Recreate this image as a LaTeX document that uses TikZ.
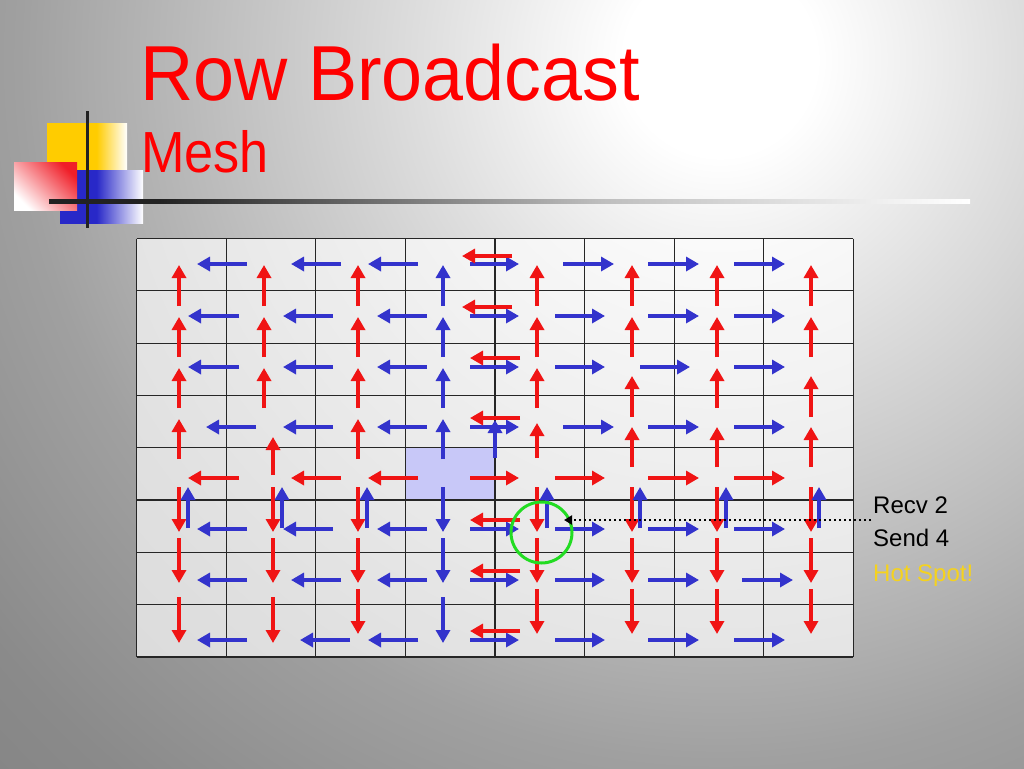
\documentclass[tikz,border=0pt]{standalone}
\usepackage{fontspec}
\usepackage{graphicx}
\setmainfont{Liberation Sans}
\usetikzlibrary{arrows.meta}
\definecolor{arrred}{RGB}{240,20,20}
\definecolor{arrblue}{RGB}{51,51,204}
\definecolor{titlered}{RGB}{255,0,0}
\definecolor{hotyellow}{RGB}{245,210,30}
\definecolor{spotgreen}{RGB}{34,220,34}
\definecolor{srccell}{RGB}{200,200,248}
\definecolor{logoyellow}{RGB}{255,204,0}
\definecolor{logoblue}{RGB}{40,40,200}
\definecolor{logored}{RGB}{240,30,40}
\definecolor{bgA}{RGB}{222,222,222}
\definecolor{bgB}{RGB}{180,180,180}
\definecolor{bgC}{RGB}{160,160,160}
\definecolor{bgD}{RGB}{138,138,138}
\definecolor{bgE}{RGB}{125,125,125}
\definecolor{linedark}{RGB}{34,34,34}
\definecolor{linemid}{RGB}{190,190,190}
% the path's bounding box covers 25bp..75bp of each shading
\pgfdeclareradialshading{bgshade}{\pgfpoint{0bp}{0bp}}{color(0bp)=(white); color(2bp)=(white); color(6.25bp)=(bgA); color(11.9bp)=(bgB); color(14.6bp)=(bgC); color(19.4bp)=(bgD); color(25bp)=(bgE); color(50bp)=(bgE)}
\pgfdeclarehorizontalshading{yellowfade}{100bp}{color(0bp)=(logoyellow); color(56bp)=(logoyellow); color(75bp)=(white); color(100bp)=(white)}
\pgfdeclarehorizontalshading{bluefade}{100bp}{color(0bp)=(logoblue); color(47bp)=(logoblue); color(75bp)=(white); color(100bp)=(white)}
\pgfdeclarehorizontalshading{linefade}{100bp}{color(0bp)=(linedark); color(31bp)=(linedark); color(55bp)=(linemid); color(75bp)=(white); color(100bp)=(white)}
\tikzset{
  redarr/.style={draw=arrred, line width=4.5pt, -{Triangle[length=13pt,width=14pt]}},
  bluearr/.style={draw=arrblue, line width=4.5pt, -{Triangle[length=13pt,width=14pt]}},
  gridline/.style={draw=black!85, line width=1.2pt},
  sidetext/.style={anchor=base west, inner sep=0pt, font=\fontsize{24}{28}\selectfont},
  hotlink/.style={draw=black, line width=2.5pt, dash pattern=on 2.5pt off 2.5pt, -{Triangle[length=8pt,width=9pt]}},
}
\begin{document}
\begin{tikzpicture}[x=1pt,y=-1pt]
\useasboundingbox (0,0) rectangle (1024,768);
% background
\begin{scope}
\clip (0,0) rectangle (1024,768);
\shade[shading=bgshade] (720,60) circle (1200pt);
\end{scope}
% logo
\shade[shading=yellowfade] (47,123) rectangle (127,185);
\shade[shading=bluefade] (60,170) rectangle (143,223);
\shade[top color=logored, bottom color=white, shading angle=-45] (14,162) rectangle (77,210);
\shade[shading=linefade] (49,199) rectangle (970,203);
\draw[draw=linedark, line width=3pt] (87,111) -- (87,228);
% title
\node[anchor=base west, inner sep=0pt, text=titlered, font=\fontsize{78}{80}\selectfont] (title) at (140,100) {\scalebox{0.945}[1]{Row Broadcast}};
\node[anchor=base west, inner sep=0pt, text=titlered, font=\fontsize{58}{60}\selectfont] (subtitle) at (141,172) {\scalebox{0.9}[1]{Mesh}};
% grid
\fill[white, opacity=0.68] (136.5,238.5) rectangle (853.3,656.9);
\fill[srccell] (405.3,447.7) rectangle (495,500);
\foreach \i in {0,...,8} \draw[gridline] ({136.5+89.6*\i},238.5) -- ({136.5+89.6*\i},656.9);
\foreach \j in {0,...,8} \draw[gridline] (136.5,{238.5+52.3*\j}) -- (853.3,{238.5+52.3*\j});
% blue horizontal arrows (y / tail x / tip x)
\foreach \y/\a/\b in {264/247/197, 264/341/291, 264/418/368,
  316/239/188, 316/333/283, 316/427/377,
  367/239/188, 367/333/283, 367/427/377,
  427/256/206, 427/333/283, 427/427/377,
  529/247/197, 529/333/283, 529/427/377,
  580/247/197, 580/341/291, 580/427/377,
  640/247/197, 640/350/300, 640/418/368,
  264/470/519, 316/470/519, 367/470/519, 427/470/519, 529/470/519, 580/470/519, 640/470/519,
  264/563/614, 264/648/699, 264/734/785,
  316/555/605, 316/648/699, 316/734/785,
  367/555/605, 367/640/690, 367/734/785,
  427/563/614, 427/648/699, 427/734/785,
  529/555/605, 529/648/699, 529/734/785,
  580/555/605, 580/648/699, 580/742/793,
  640/555/605, 640/648/699, 640/734/785}
  \draw[bluearr] (\a,\y) -- (\b,\y);
% red horizontal arrows
\foreach \y/\a/\b in {256/512/462, 307/512/462, 358/520/470, 418/520/470,
  520/520/470, 571/520/470, 631/520/470,
  478/239/188, 478/341/291, 478/418/368,
  478/470/519, 478/555/605, 478/648/699, 478/734/785}
  \draw[redarr] (\a,\y) -- (\b,\y);
% red vertical arrows (x / tail y / tip y)
\foreach \x/\a/\b in {179/306/265, 264/306/265, 358/306/265, 537/306/265, 632/306/265, 717/306/265, 811/306/265,
  179/357/317, 264/357/317, 358/357/317, 537/357/317, 632/357/317, 717/357/317, 811/357/317,
  179/408/368, 264/408/368, 358/408/368, 537/408/368, 717/408/368, 632/417/376, 811/417/376,
  179/459/419, 358/459/419, 273/475/437, 537/458/423, 632/467/427, 717/467/427, 811/467/427,
  179/487/532, 179/538/583, 179/597/643,
  273/487/532, 273/538/583, 273/597/643,
  358/487/532, 358/538/583, 358/589/634,
  537/487/532, 537/538/583, 537/589/634,
  632/487/532, 632/538/583, 632/589/634,
  717/487/532, 717/538/583, 717/589/634,
  811/487/532, 811/538/583, 811/589/634}
  \draw[redarr] (\x,\a) -- (\x,\b);
% blue vertical arrows
\foreach \x/\a/\b in {443/306/265, 443/357/317, 443/408/368, 443/459/419, 495/458/420,
  443/487/532, 443/538/583, 443/597/643,
  188/528/487, 282/528/487, 367/528/487, 547/528/487, 640/528/487, 726/528/487, 819/528/487}
  \draw[bluearr] (\x,\a) -- (\x,\b);
% hot spot
\node[draw=spotgreen, line width=3pt, circle, minimum size=61pt, inner sep=0pt] (spot) at (541.5,532.5) {};
\node[sidetext] (recv) at (873,513) {Recv 2};
\node[sidetext] (send) at (873,546) {Send 4};
\node[sidetext, text=hotyellow] (hot) at (873,581) {Hot Spot!};
\coordinate (dotstart) at (871,520);
\coordinate (spottip) at (564,520);
\draw[hotlink] (dotstart) -- (spottip);
\end{tikzpicture}
\end{document}
